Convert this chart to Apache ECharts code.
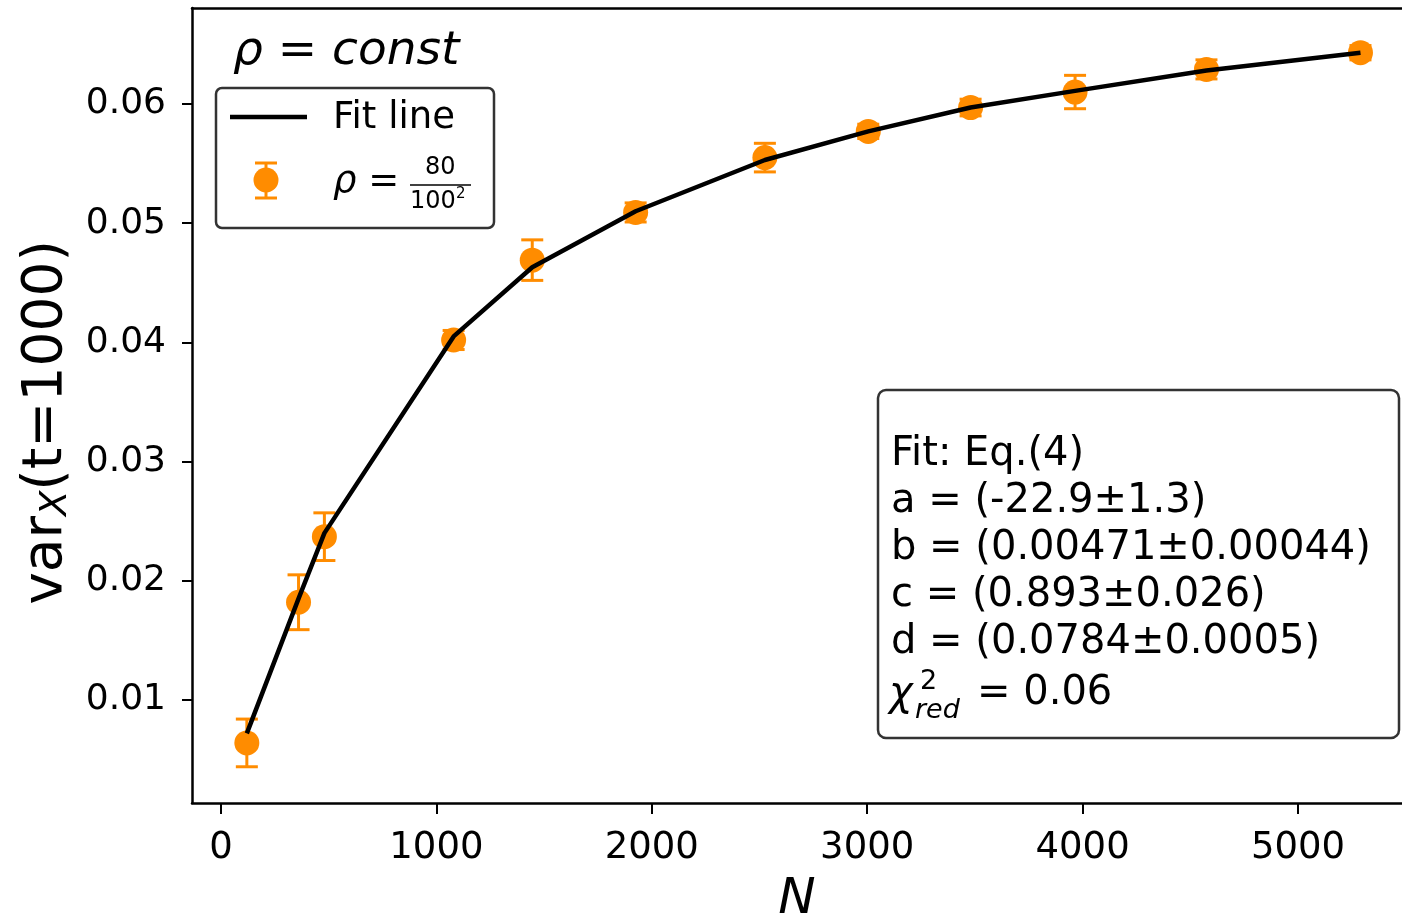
<!DOCTYPE html>
<html>
<head>
<meta charset="utf-8">
<script src="https://cdn.jsdelivr.net/npm/echarts@6/dist/echarts.min.js"></script>
<style>
  html, body { margin: 0; padding: 0; background: #fff; }
  #chart { width: 1402px; height: 919px; }
</style>
</head>
<body>
<div id="chart"></div>
<script>
// measured data, N vs var_X(t=1000)
var nValues   = [120, 360, 480, 1080, 1445, 1925, 2525, 3005, 3480, 3965, 4575, 5290];
var varValues = [0.0064, 0.0182, 0.0237, 0.0402, 0.0469, 0.0509, 0.0555, 0.0577, 0.0597, 0.0610, 0.0629, 0.0643];
var varErrors = [0.0020, 0.0023, 0.0020, 0.0008, 0.0017, 0.0008, 0.0012, 0.0006, 0.0007, 0.0014, 0.0008, 0.0006];
var fitValues = [0.0072, 0.0185, 0.0240, 0.0405, 0.0463, 0.0510, 0.0553, 0.0577, 0.0597, 0.0611, 0.0628, 0.0643];
var xTicks = [0, 1000, 2000, 3000, 4000, 5000];
var yTicks = [0.01, 0.02, 0.03, 0.04, 0.05, 0.06];
var fitText = [
    'Fit: Eq.(4)',
    'a = (-22.9±1.3)',
    'b = (0.00471±0.00044)',
    'c = (0.893±0.026)',
    'd = (0.0784±0.0005)'
];

var orange = '#ff8c00';
var font = 'DejaVu Sans';

var pointData = [], errData = [], fitData = [];
for (var i = 0; i < nValues.length; i++) {
    pointData.push([nValues[i], varValues[i]]);
    errData.push([nValues[i], varValues[i], varErrors[i]]);
    fitData.push([nValues[i], fitValues[i]]);
}

var myChart = echarts.init(document.getElementById('chart'));

function errorBar(params, api) {
    var x = api.value(0), y = api.value(1), e = api.value(2);
    var top = api.coord([x, y + e]);
    var bot = api.coord([x, y - e]);
    var cw = 11;
    var st = { stroke: orange, lineWidth: 3 };
    return {
        type: 'group',
        children: [
            { type: 'line', shape: { x1: top[0], y1: top[1], x2: bot[0], y2: bot[1] }, style: st },
            { type: 'line', shape: { x1: top[0] - cw, y1: top[1], x2: top[0] + cw, y2: top[1] }, style: st },
            { type: 'line', shape: { x1: bot[0] - cw, y1: bot[1], x2: bot[0] + cw, y2: bot[1] }, style: st }
        ]
    };
}

var graphics = [
    // title
    { type: 'text', left: 233, top: 28, style: { text: 'ρ = const', font: 'italic 47px "DejaVu Sans"', fill: '#000' } },
    // legend box
    { type: 'rect', shape: { x: 216, y: 88, width: 278, height: 140, r: 6 }, style: { fill: '#fff', stroke: '#333', lineWidth: 2.5 }, z: 10 },
    { type: 'line', shape: { x1: 230, y1: 117, x2: 307, y2: 117 }, style: { stroke: '#000', lineWidth: 4.5 }, z: 11 },
    { type: 'text', left: 333, top: 100, style: { text: 'Fit line', font: '37px "DejaVu Sans"', fill: '#000' }, z: 11 },
    { type: 'line', shape: { x1: 266, y1: 163, x2: 266, y2: 198 }, style: { stroke: orange, lineWidth: 3 }, z: 11 },
    { type: 'line', shape: { x1: 255, y1: 163, x2: 277, y2: 163 }, style: { stroke: orange, lineWidth: 3 }, z: 11 },
    { type: 'line', shape: { x1: 255, y1: 198, x2: 277, y2: 198 }, style: { stroke: orange, lineWidth: 3 }, z: 11 },
    { type: 'circle', shape: { cx: 266, cy: 180, r: 12.5 }, style: { fill: orange }, z: 11 },
    { type: 'text', left: 333, top: 164, style: { text: 'ρ = ', font: 'italic 37px "DejaVu Sans"', fill: '#000' }, z: 11 },
    { type: 'text', left: 425, top: 156, style: { text: '80', font: '24px "DejaVu Sans"', fill: '#000' }, z: 11 },
    { type: 'line', shape: { x1: 410, y1: 185, x2: 471, y2: 185 }, style: { stroke: '#000', lineWidth: 1.5 }, z: 11 },
    { type: 'text', left: 410, top: 190, style: { text: '100', font: '24px "DejaVu Sans"', fill: '#000' }, z: 11 },
    { type: 'text', left: 456, top: 187, style: { text: '2', font: '15px "DejaVu Sans"', fill: '#000' }, z: 11 },
    // fit results box
    { type: 'rect', shape: { x: 878, y: 390, width: 521, height: 348, r: 8 }, style: { fill: '#fff', stroke: '#333', lineWidth: 2.5 }, z: 10 },
    { type: 'text', left: 889, top: 675, style: { text: 'χ', font: 'italic 40px "DejaVu Sans"', fill: '#000' }, z: 11 },
    { type: 'text', left: 920, top: 668, style: { text: '2', font: '27px "DejaVu Sans"', fill: '#000' }, z: 11 },
    { type: 'text', left: 915, top: 697, style: { text: 'red', font: 'italic 27px "DejaVu Sans"', fill: '#000' }, z: 11 },
    { type: 'text', left: 977, top: 674, style: { text: '= 0.06', font: '40px "DejaVu Sans"', fill: '#000' }, z: 11 }
];
for (var k = 0; k < fitText.length; k++) {
    graphics.push({
        type: 'text', left: 891, top: 435 + k * 47, z: 11,
        style: { text: fitText[k], font: '40px "DejaVu Sans"', fill: '#000' }
    });
}

option = {
    backgroundColor: '#fff',
    animation: false,
    grid: { left: 192, top: 8, right: 0, bottom: 116, outerBoundsMode: 'none', containLabel: false },
    xAxis: [{
        type: 'value',
        min: -134.6,
        max: 5482.8,
        name: 'N',
        nameLocation: 'middle',
        nameGap: 72,
        nameTextStyle: { fontFamily: font, fontSize: 50, fontStyle: 'italic', color: '#000' },
        axisLine: { show: true, onZero: false, lineStyle: { color: '#000', width: 2.5 } },
        axisTick: { show: true, inside: false, length: 11, lineStyle: { color: '#000', width: 2 }, customValues: xTicks },
        axisLabel: {
            fontFamily: font, fontSize: 37, color: '#000', margin: 27, customValues: xTicks,
            formatter: function (v) { return String(v); }
        },
        splitLine: { show: false }
    }, {
        type: 'value', position: 'top',
        min: -134.6, max: 5482.8,
        axisLine: { show: true, onZero: false, lineStyle: { color: '#000', width: 2.5 } },
        axisTick: { show: false }, axisLabel: { show: false }, splitLine: { show: false }
    }],
    yAxis: {
        type: 'value',
        min: 0.00136,
        max: 0.06805,
        name: '{a|var}{b|X}{a|(t=1000)}',
        nameLocation: 'middle',
        nameGap: 116,
        nameRotate: 90,
        nameTextStyle: {
            padding: [0, 34, 0, 0],
            rich: {
                a: { fontFamily: font, fontSize: 55, color: '#000' },
                b: { fontFamily: font, fontSize: 37, fontStyle: 'italic', color: '#000', padding: [19, 0, 0, 0] }
            }
        },
        axisLine: { show: true, onZero: false, lineStyle: { color: '#000', width: 2.5 } },
        axisTick: { show: true, length: 10, lineStyle: { color: '#000', width: 2 }, customValues: yTicks },
        axisLabel: {
            fontFamily: font, fontSize: 36, color: '#000', margin: 26, customValues: yTicks,
            formatter: function (v) { return v.toFixed(2); }
        },
        splitLine: { show: false }
    },
    series: [
        {
            name: 'errors',
            type: 'custom',
            renderItem: errorBar,
            data: errData,
            encode: { x: 0, y: 1 },
            z: 2
        },
        {
            name: 'points',
            type: 'scatter',
            data: pointData,
            symbol: 'circle',
            symbolSize: 25,
            itemStyle: { color: orange, opacity: 1 },
            z: 3
        },
        {
            name: 'Fit line',
            type: 'line',
            data: fitData,
            showSymbol: false,
            lineStyle: { color: '#000', width: 4.5 },
            z: 4
        }
    ],
    graphic: graphics
};
myChart.setOption(option);
</script>
</body>
</html>
